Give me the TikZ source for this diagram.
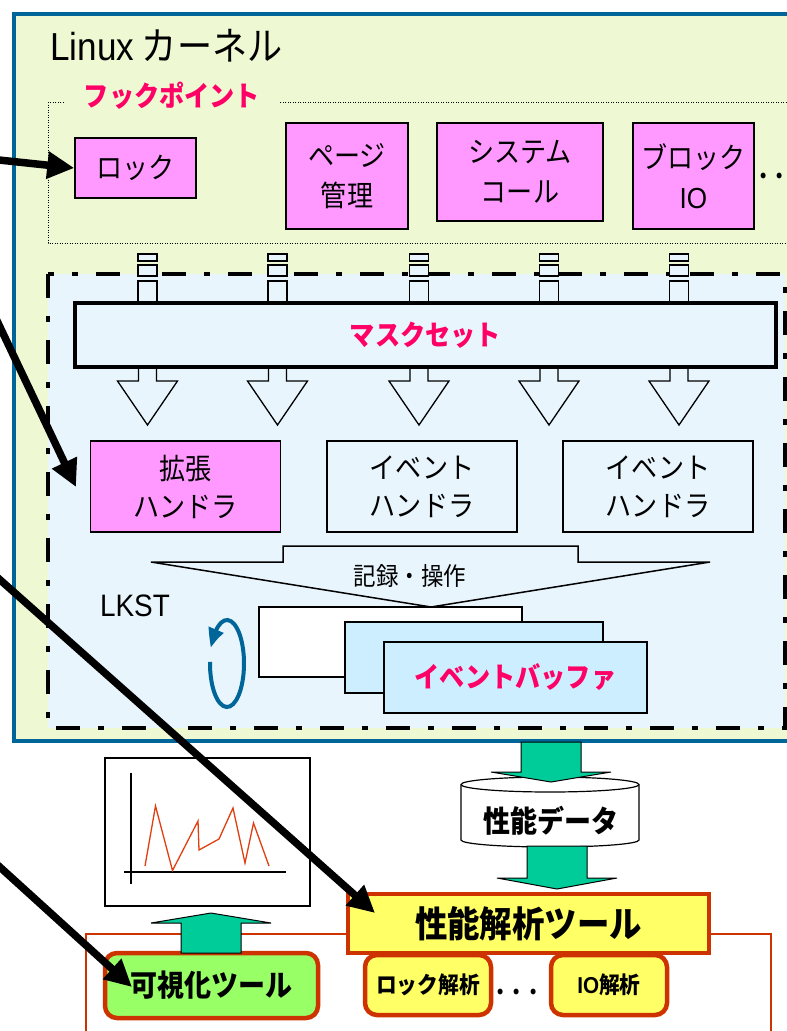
\documentclass[tikz,border=0pt]{standalone}
\usepackage{fontspec}
\setmainfont{Noto Sans CJK JP}[FakeStretch=0.9]
\newfontfamily\latinfont{Liberation Sans}[FakeStretch=0.9]
\usetikzlibrary{arrows.meta,bending}
\definecolor{kernelfill}{HTML}{EEF8D2}
\definecolor{kernelline}{HTML}{006699}
\definecolor{lkstfill}{HTML}{E8F5FD}
\definecolor{hookfill}{HTML}{FF99FF}
\definecolor{hooktext}{HTML}{FF0066}
\definecolor{buffill}{HTML}{CCEEFF}
\definecolor{flowgreen}{HTML}{00CC99}
\definecolor{toolfill}{HTML}{FFFF66}
\definecolor{toolline}{HTML}{CC3300}
\definecolor{visfill}{HTML}{99FF66}
\definecolor{chartline}{HTML}{E04010}
\tikzset{
  hookbox/.style={draw, line width=1.5pt, fill=hookfill, inner sep=0pt, align=center, font=\fontsize{29}{40}\selectfont},
  handler/.style={draw, line width=1.5pt, fill=lkstfill, inner sep=0pt, align=center, minimum width=190pt, minimum height=91pt, font=\fontsize{29}{38}\selectfont},
  buffer/.style={draw, line width=1.8pt, fill=buffill, inner sep=0pt, minimum width=263pt, minimum height=71pt},
  tool/.style={draw=toolline, line width=4.5pt, fill=toolfill, inner sep=0pt, rounded corners=12pt, minimum height=60pt, font=\bfseries\fontsize{23}{23}\selectfont},
  plug/.style={draw, line width=1.3pt, fill=lkstfill},
  flow/.style={draw, line width=1pt, fill=flowgreen},
  pointer/.style={line width=7.5pt, -{Triangle[length=27pt,width=26pt]}},
  pinktext/.style={text=hooktext, font=\bfseries\fontsize{28}{28}\selectfont},
}
\newcommand\flowarrow[4]{%
  \draw[flow] (#1-30,#2) -- (#1-30,#3) -- (#1-60,#3) -- (#1,#4) -- (#1+60,#3) -- (#1+30,#3) -- (#1+30,#2) -- cycle;}
\begin{document}
\begin{tikzpicture}[x=1pt, y=-1pt]
\useasboundingbox (0,0) rectangle (787,1031);
\clip (0,0) rectangle (787,1031);
\draw[draw=kernelline, fill=kernelfill, line width=4pt] (14,14) rectangle (830,741);
\node[anchor=west, inner sep=0pt, font=\fontsize{39}{39}\selectfont] (kernel) at (50,46) {{\latinfont Linux} カーネル};
\draw[line width=1pt, dash pattern=on 1pt off 1.5pt] (48,102) rectangle (830,243);
\node[pinktext, fill=kernelfill, inner xsep=20pt, inner ysep=2pt] (hooks) at (172,96) {フックポイント};
\node[hookbox, minimum width=121pt, minimum height=60pt] (lock) at (135.5,168) {ロック};
\node[hookbox, minimum width=122pt, minimum height=106pt] (page) at (347,176) {ページ\\管理};
\node[hookbox, minimum width=166pt, minimum height=98pt] (syscall) at (520,172) {システム\\コール};
\node[hookbox, minimum width=121pt, minimum height=106pt] (blockio) at (693.5,176) {ブロック\\{\latinfont IO}};
\node[inner sep=0pt, font=\bfseries\fontsize{26}{26}\selectfont] (more) at (780,176) {.\hspace{8pt}.\hspace{8pt}.};
\draw[fill=lkstfill, line width=4pt, dash pattern=on 24pt off 18pt on 6pt off 18pt] (48,274) rectangle (785,728);
\foreach \x in {147.5,277.5,419,549,679} {
  \draw[plug] (\x-9.5,254) rectangle (\x+9.5,261);
  \draw[plug] (\x-9.5,265) rectangle (\x+9.5,276);
  \draw[plug] (\x-9.5,281) rectangle (\x+9.5,304);
  \draw[fill=lkstfill, line width=1.3pt] (\x-9,367) -- (\x-9,381) -- (\x-30,381) -- (\x,425) -- (\x+30,381) -- (\x+9,381) -- (\x+9,367);
}
\node[draw, line width=3.5pt, fill=lkstfill, minimum width=701pt, minimum height=64pt, pinktext] (mask) at (425.5,335) {マスクセット};
\node[handler, fill=hookfill] (exthandler) at (185.5,486.5) {拡張\\ハンドラ};
\node[handler] (evhandlerA) at (422,486.5) {イベント\\ハンドラ};
\node[handler] (evhandlerB) at (658,486.5) {イベント\\ハンドラ};
\draw[fill=lkstfill, line width=1.5pt] (283,546) -- (578,546) -- (578,562) -- (710,562) -- (431,607) -- (151,562) -- (283,562) -- cycle;
\node[font=\fontsize{25}{25}\selectfont] (record) at (410,576) {記録・操作};
\node[font=\latinfont\fontsize{31}{31}\selectfont] (lkst) at (135,606) {LKST};
\begin{scope}[shift={(227,663.5)}, y=1pt]
  \draw[kernelline, line width=4pt, -{Triangle[length=20pt,width=15pt,bend]}] (178:17 and 43.5) arc[start angle=178, end angle=519, x radius=17, y radius=43.5];
\end{scope}
\node[buffer, fill=white, minimum width=263pt, minimum height=70pt] (bufback) at (390.5,642) {};
\node[buffer, minimum width=258pt] (bufmid) at (474,657.5) {};
\node[buffer, pinktext] (buffront) at (515.5,677.5) {イベントバッファ};
\node[draw, line width=1.2pt, fill=white, minimum width=205pt, minimum height=148pt] (chart) at (207.5,832) {};
\draw[line width=1.2pt] (131,773) -- (131,884) (124,872) -- (286,872);
\draw[chartline, line width=1.3pt] (145,866) -- (155.5,806) -- (172.5,870.5) -- (198,821) -- (199,850) -- (219,839) -- (233,808) -- (245,863) -- (253.5,823) -- (269,866);
\draw[fill=white, line width=1.2pt] (461,784.5) -- (461,840) arc[start angle=180, end angle=0, x radius=89, y radius=7] -- (639,784.5) arc[start angle=0, end angle=-180, x radius=89, y radius=7.5] -- cycle;
\draw[line width=1.2pt] (461,784.5) arc[start angle=180, end angle=0, x radius=89, y radius=7.5];
\node[font=\bfseries\fontsize{30}{30}\selectfont] (perfdata) at (551,821) {性能データ};
\flowarrow{551}{742}{772}{782}
\flowarrow{557}{846}{878}{889}
\draw[toolline, line width=2.5pt] (86,1040) |- (771,934) -- (771,1040);
\node[draw=toolline, line width=4pt, fill=toolfill, minimum width=361pt, minimum height=59pt, inner sep=0pt, font=\bfseries\fontsize{36}{36}\selectfont] (anatool) at (528.5,923.5) {性能解析ツール};
\node[tool, fill=visfill, minimum width=213pt, minimum height=65pt, font=\bfseries\fontsize{30}{30}\selectfont] (vistool) at (211.5,985.5) {可視化ツール};
\flowarrow{211}{953}{923}{913}
\node[tool, minimum width=126pt] (locktool) at (428,985) {ロック解析};
\node[inner sep=0pt, font=\bfseries\fontsize{26}{26}\selectfont] (etc) at (517,992) {.\hspace{8pt}.\hspace{8pt}.};
\node[tool, minimum width=116pt] (iotool) at (609,985) {{\latinfont IO}解析};
\coordinate (srcA) at (-20,158);
\coordinate (srcB) at (-10,306);
\coordinate (srcC) at (-20,562);
\coordinate (srcD) at (-20,849);
\coordinate (tipB) at (76,487);
\coordinate (tipC) at (375,913);
\coordinate (tipD) at (132,987);
\draw[pointer] (srcA) -- (lock.west);
\draw[pointer] (srcB) -- (tipB);
\draw[pointer] (srcC) -- (tipC);
\draw[pointer] (srcD) -- (tipD);
\end{tikzpicture}
\end{document}
